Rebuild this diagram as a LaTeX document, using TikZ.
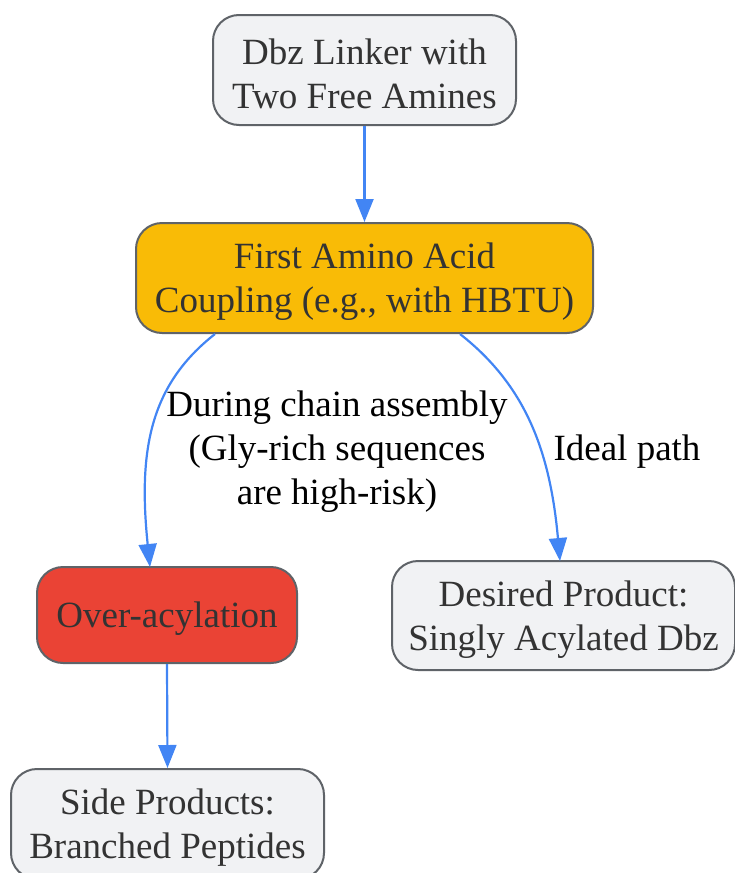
\documentclass[tikz,border=0pt]{standalone}
\usepackage{fontspec}
\setmainfont{Liberation Serif}
\usetikzlibrary{arrows.meta}
\definecolor{boxgray}{HTML}{F1F2F4}
\definecolor{bordergray}{HTML}{5F6368}
\definecolor{amber}{HTML}{F9BB06}
\definecolor{redbox}{HTML}{EA4335}
\definecolor{edgeblue}{HTML}{4285F4}
\definecolor{txt}{HTML}{333333}
\tikzset{
  box/.style={draw=bordergray, line width=2pt, rounded corners=26pt, inner sep=0pt},
  boxtext/.style={align=center, font=\fontsize{37}{44}\selectfont, text=txt, inner sep=0pt},
  conn/.style={draw=edgeblue, line width=2.2pt, -{Triangle[length=23pt,width=18pt]}},
  lbl/.style={font=\fontsize{37}{44}\selectfont, text=black, align=center}
}
\begin{document}
\begin{tikzpicture}[x=1pt,y=1pt]
\useasboundingbox (0,0) rectangle (735,-873);
\node[box, fill=boxgray, minimum width=303pt, minimum height=110pt] (a) at (364.5,-70) {};
\node[boxtext] (at) at (364.5,-74) {Dbz Linker with\\Two Free Amines};
\node[box, fill=amber, minimum width=457pt, minimum height=110pt] (b) at (364.5,-278) {};
\node[boxtext] (bt) at (364.5,-282) {First Amino Acid\\Coupling (e.g., with HBTU)};
\node[box, fill=redbox, minimum width=260pt, minimum height=96pt] (c) at (167,-615) {};
\node[boxtext] (ct) at (167,-619) {Over-acylation};
\node[box, fill=boxgray, minimum width=343pt, minimum height=109pt] (d) at (563.5,-615.5) {};
\node[boxtext] (dt) at (563.5,-619.5) {Desired Product:\\Singly Acylated Dbz};
\node[box, fill=boxgray, minimum width=313pt, minimum height=110pt] (e) at (167.5,-824) {};
\node[boxtext] (et) at (167.5,-828) {Side Products:\\Branched Peptides};
\draw[conn] (a.south) -- (b.north);
\draw[conn] (c.south) -- (e.north);
\draw[conn] (b.south -| 215,0) .. controls (150,-385) and (138,-450) .. (150,-567);
\draw[conn] (b.south -| 460,0) .. controls (525,-385) and (550,-450) .. (560,-561);
\node[lbl] (l1) at (337,-452) {During chain assembly\\(Gly-rich sequences\\are high-risk)};
\node[lbl] (l2) at (627,-452) {Ideal path};
\end{tikzpicture}
\end{document}
